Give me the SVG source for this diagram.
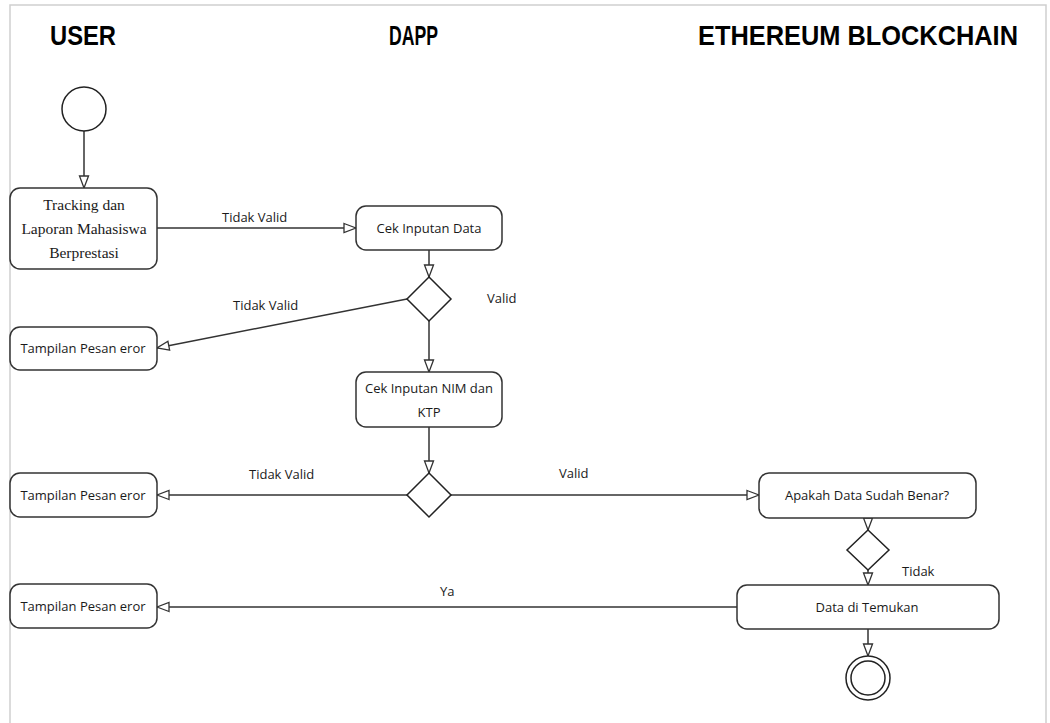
<svg xmlns="http://www.w3.org/2000/svg" width="1050" height="723" viewBox="0 0 1050 723">
  <style>
    .frame { fill: none; stroke: #d0d0d0; stroke-width: 1.5; }
    .lane { font-family: "Liberation Sans", Arial, sans-serif; font-weight: bold; font-size: 28px; fill: #000; }
    .box { fill: #ffffff; stroke: #333333; stroke-width: 1.5; }
    .dec { fill: #ffffff; stroke: #222222; stroke-width: 1.5; }
    .txt { font-family: "Open Sans", "Noto Sans", sans-serif; font-size: 13px; fill: #1a1a1a; text-anchor: middle; }
    .serif { font-family: "Liberation Serif", "Times New Roman", serif; font-size: 15.5px; fill: #1a1a1a; text-anchor: middle; }
    .lbl { font-family: "Open Sans", "Noto Sans", sans-serif; font-size: 13px; fill: #1a1a1a; }
    .flow { fill: none; stroke: #333333; stroke-width: 1.5; marker-end: url(#open); }
  </style>
  <defs>
    <marker id="open" markerUnits="userSpaceOnUse" markerWidth="14" markerHeight="12" viewBox="0 0 14 12" refX="13" refY="6" orient="auto">
      <path d="M1,1.5 L13,6 L1,10.5 Z" fill="#ffffff" stroke="#333333" stroke-width="1.3"/>
    </marker>
  </defs>

  <!-- page frame -->
  <path class="frame" d="M10,723 L10,5 L1046,5 L1046,723"/>

  <!-- swimlane headings -->
  <g id="lanes">
    <text class="lane" x="50" y="45" textLength="66" lengthAdjust="spacingAndGlyphs">USER</text>
    <text class="lane" x="389" y="45" textLength="49" lengthAdjust="spacingAndGlyphs">DAPP</text>
    <text class="lane" x="698" y="45" textLength="320" lengthAdjust="spacingAndGlyphs">ETHEREUM BLOCKCHAIN</text>
  </g>

  <!-- connectors -->
  <g id="connectors">
    <line class="flow" x1="84" y1="131" x2="84" y2="188"/>
    <line class="flow" x1="157" y1="228" x2="356" y2="228"/>
    <line class="flow" x1="429" y1="250" x2="429" y2="277"/>
    <line class="flow" x1="407" y1="299" x2="157" y2="348"/>
    <line class="flow" x1="429" y1="321" x2="429" y2="372"/>
    <line class="flow" x1="429" y1="427" x2="429" y2="473"/>
    <line class="flow" x1="407" y1="495" x2="157" y2="495"/>
    <line class="flow" x1="451" y1="495" x2="759" y2="495"/>
    <line class="flow" x1="868" y1="518" x2="868" y2="530"/>
    <line class="flow" x1="868" y1="570" x2="868" y2="585"/>
    <line class="flow" x1="737" y1="607" x2="157" y2="607"/>
    <line class="flow" x1="868" y1="629" x2="868" y2="656"/>

    <text class="lbl" x="222" y="222">Tidak Valid</text>
    <text class="lbl" x="487" y="303">Valid</text>
    <text class="lbl" x="233" y="310">Tidak Valid</text>
    <text class="lbl" x="249" y="479">Tidak Valid</text>
    <text class="lbl" x="559" y="478">Valid</text>
    <text class="lbl" x="902" y="576">Tidak</text>
    <text class="lbl" x="440" y="596">Ya</text>
  </g>

  <!-- start -->
  <g id="start">
    <circle class="dec" cx="84" cy="109" r="22"/>
  </g>

  <g id="tracking">
    <rect class="box" x="10" y="188" width="147" height="81" rx="10"/>
    <text class="serif" x="84" y="210">Tracking dan</text>
    <text class="serif" x="84" y="234">Laporan Mahasiswa</text>
    <text class="serif" x="84" y="258">Berprestasi</text>
  </g>

  <g id="cek-data">
    <rect class="box" x="356" y="206" width="146" height="44" rx="10"/>
    <text class="txt" x="429" y="233">Cek Inputan Data</text>
  </g>

  <g id="decision-1">
    <polygon class="dec" points="429,277 451,299 429,321 407,299"/>
  </g>

  <g id="error-1">
    <rect class="box" x="10" y="327" width="147" height="43" rx="10"/>
    <text class="txt" x="83" y="353">Tampilan Pesan eror</text>
  </g>

  <g id="cek-nim">
    <rect class="box" x="356" y="372" width="146" height="55" rx="10"/>
    <text class="txt" x="429" y="393">Cek Inputan NIM dan</text>
    <text class="txt" x="429" y="417">KTP</text>
  </g>

  <g id="decision-2">
    <polygon class="dec" points="429,473 451,495 429,517 407,495"/>
  </g>

  <g id="error-2">
    <rect class="box" x="10" y="473" width="147" height="44" rx="10"/>
    <text class="txt" x="83" y="500">Tampilan Pesan eror</text>
  </g>

  <g id="cek-benar">
    <rect class="box" x="759" y="473" width="217" height="45" rx="10"/>
    <text class="txt" x="867" y="500">Apakah Data Sudah Benar?</text>
  </g>

  <g id="decision-3">
    <polygon class="dec" points="868,530 889,550 868,570 847,550"/>
  </g>

  <g id="data-ditemukan">
    <rect class="box" x="737" y="585" width="262" height="44" rx="10"/>
    <text class="txt" x="867" y="612">Data di Temukan</text>
  </g>

  <g id="error-3">
    <rect class="box" x="10" y="584" width="147" height="44" rx="10"/>
    <text class="txt" x="83" y="611">Tampilan Pesan eror</text>
  </g>

  <!-- end -->
  <g id="end">
    <circle class="dec" cx="868" cy="678" r="22"/>
    <circle class="dec" cx="868" cy="678" r="17"/>
  </g>
</svg>
